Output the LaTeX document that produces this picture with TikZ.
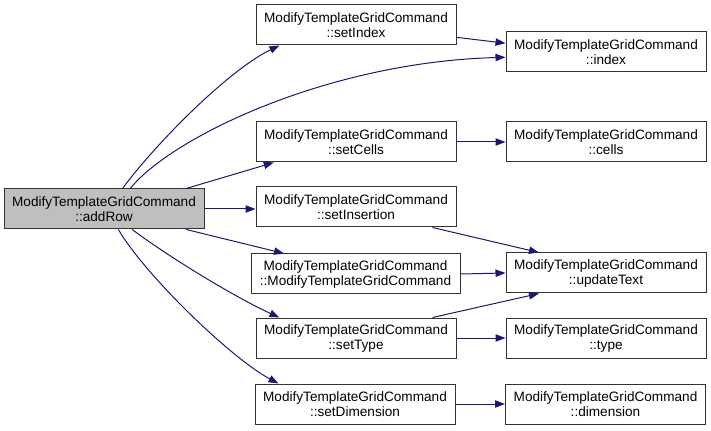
\documentclass[tikz,border=0pt]{standalone}
\usepackage{fontspec}
\setmainfont{Liberation Sans}
\usetikzlibrary{arrows.meta}
\definecolor{edgeblue}{RGB}{25,25,112}
\definecolor{callergray}{RGB}{191,191,191}
\begin{document}
\begin{tikzpicture}[x=0.75pt,y=-0.75pt,
  fn/.style={draw=black!80,line width=0.75pt,fill=white,minimum width=150pt,minimum height=30pt,inner sep=1pt,align=center,font=\fontsize{10.2}{11.25}\selectfont},
  call/.style={draw=edgeblue,line width=0.75pt,-{Triangle[length=7.5pt,width=5.5pt,fill=edgeblue]}}]
\useasboundingbox (0,0) rectangle (711,431);
\node[fn,fill=callergray] (addRow) at (104,209) {ModifyTemplateGridCommand\\::addRow};
\node[fn] (setIndex) at (356,25) {ModifyTemplateGridCommand\\::setIndex};
\node[fn] (index) at (606,52) {ModifyTemplateGridCommand\\::index};
\node[fn] (setCells) at (356,142) {ModifyTemplateGridCommand\\::setCells};
\node[fn] (cells) at (606,142) {ModifyTemplateGridCommand\\::cells};
\node[fn] (setInsertion) at (356,207) {ModifyTemplateGridCommand\\::setInsertion};
\node[fn,minimum width=156.75pt] (ctor) at (355.5,274) {ModifyTemplateGridCommand\\::ModifyTemplateGridCommand};
\node[fn] (updateText) at (606,273) {ModifyTemplateGridCommand\\::updateText};
\node[fn] (setType) at (356,338) {ModifyTemplateGridCommand\\::setType};
\node[fn] (type) at (606,338) {ModifyTemplateGridCommand\\::type};
\node[fn] (setDimension) at (355,404) {ModifyTemplateGridCommand\\::setDimension};
\node[fn] (dimension) at (605.5,404) {ModifyTemplateGridCommand\\::dimension};
\draw[call] (addRow.48) .. controls +(35,-47) and +(-50,24) .. (setIndex.195);
\draw[call] (addRow.38) .. controls +(40,-50) and +(-180,5) .. (index.183);
\draw[call] (addRow.14) -- (setCells.194);
\draw[call] (addRow.east) -- (addRow.east -| setInsertion.west);
\draw[call] (addRow.-14) -- (ctor.164);
\draw[call] (addRow.-36) .. controls +(40,30) and +(-40,-18) .. (setType.165);
\draw[call] (addRow.-55) .. controls +(27,46) and +(-47,-25) .. (setDimension.165);
\draw[call] (setIndex.-7) -- (index.175);
\draw[call] (setCells.east) -- (cells.west);
\draw[call] (setInsertion.-15) -- (updateText.163);
\draw[call] (ctor.east) -- (updateText.west);
\draw[call] (setType.15) -- (updateText.197);
\draw[call] (setType.east) -- (type.west);
\draw[call] (setDimension.east) -- (dimension.west);
\end{tikzpicture}
\end{document}
